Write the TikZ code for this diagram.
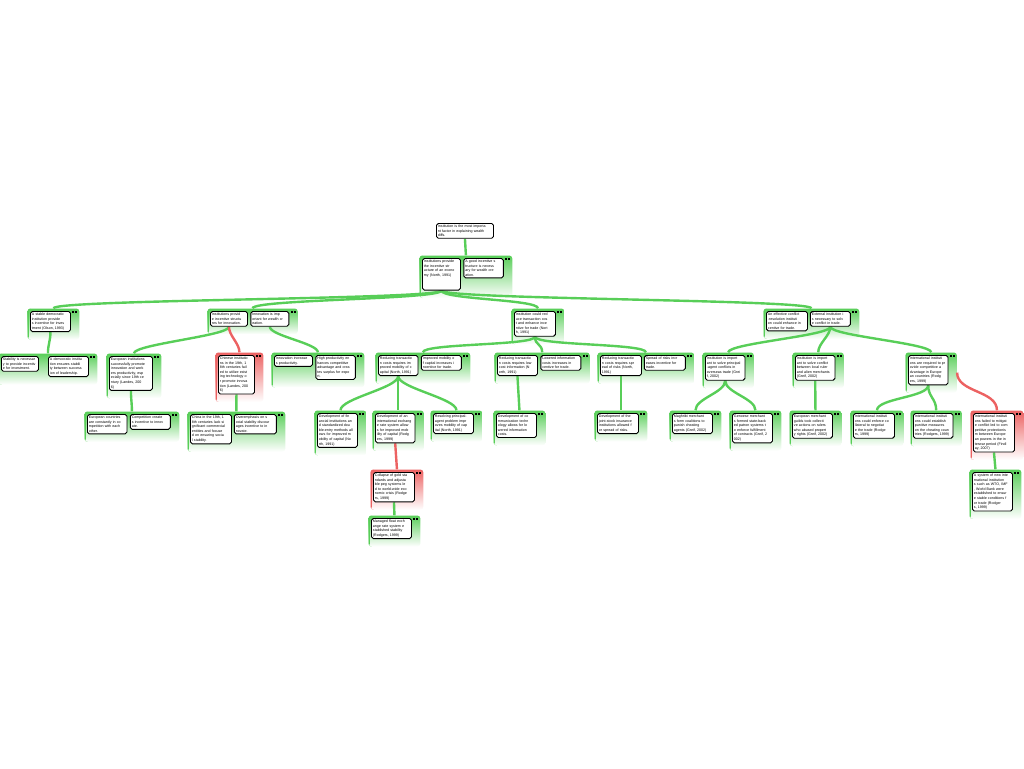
\documentclass[tikz,border=0pt]{standalone}
\usepackage{fontspec}
\setmainfont{Liberation Sans}
\usepackage{tikz}
\usetikzlibrary{positioning, fit, calc, backgrounds}

\definecolor{progreen}{RGB}{88,206,88}
\definecolor{conred}{RGB}{236,98,98}

\tikzset{
  claim/.style={draw, line width=0.9pt, fill=white, rounded corners=1.8pt, anchor=north west,
    inner sep=1.5pt, text width=36.5pt, align=left, font=\fontsize{3.6}{4.6}\selectfont},
  grp/.style={shade, top color=#1, bottom color=white, rounded corners=3pt, inner sep=2.5pt,
    path picture={\fill[#1] (path picture bounding box.north west) rectangle
      ([xshift=1.4pt]path picture bounding box.south west);}},
  link/.style={draw=progreen, line width=2.4pt},
  objlink/.style={draw=conred, line width=2.4pt},
  drop/.style={out=-90, in=90, distance=#1},
  drop/.default=9pt,
}

\begin{document}
\begin{tikzpicture}[x=1pt, y=-1pt]
\useasboundingbox (0,0) rectangle (1024,768);

% main claim
\node[claim, text width=54pt] (root) at (436,223) {Institution is the most importa\\nt factor in explaining wealth\\diffs.};

\node[claim, text width=35pt, text depth=26pt] (A) at (422,258) {Institutions provide\\the incentive str\\ucture of an econo\\my (North, 1991)};
\node[claim, right=2.5pt of A.north east, anchor=north west] (B) {A good incentive s\\tructure is necess\\ary for wealth cre\\ation.};

% second row
\node[claim, text width=37pt] (C) at (30,311) {A stable democratic\\institution provide\\s incentive for inves\\tment (Olson, 1993)};
\node[claim, text width=34pt] (D) at (210,311) {Institutions provid\\e incentive structu\\res for innovation.};
\node[claim, text width=35pt, right=2.5pt of D.north east, anchor=north west] (E) {Innovation is imp\\ortant for wealth cr\\eation.};
\node[claim, text width=38pt] (F) at (514,311) {Institution could red\\uce transaction cos\\t and enhance ince\\ntive for trade (Nort\\h, 1991)};
\node[claim, text width=38pt] (G) at (766,311) {An effective conflict\\-resolution instituti\\on could enhance in\\centive for trade.};
\node[claim, text width=37pt, right=2pt of G.north east, anchor=north west] (H) {External institution i\\s necessary to solv\\e conflict in trade.};

% third row
\node[claim, text width=34pt] (C1) at (1,356) {Stability is necessar\\y to provide incentiv\\e for investment.};
\node[claim, text width=37pt] (C2) at (48,356) {A democratic institu\\tion ensures stabili\\ty between success\\ion of leadership.};
\node[claim, text width=40pt] (D1) at (109,356) {European institutions\\successfully promote\\innovation and work\\ers productivity, esp\\ecially since 19th ce\\ntury (Landes, 200\\6)};
\node[claim, text width=33pt] (D2) at (218,355) {Chinese institutio\\ns in the 19th, 1\\8th centuries fail\\ed to utilize exist\\ing technology o\\r promote innova\\tion (Landes, 200\\6)};
\node[claim, text width=35pt] (E1) at (274,355) {Innovation increase\\s productivity.};
\node[claim, right=2.5pt of E1.north east, anchor=north west] (E2) {High productivity en\\hances competitive\\advantage and crea\\tes surplus for expo\\rt.};
\node[claim] (F1) at (378,355) {Reducing transactio\\n costs requires im\\proved mobility of c\\apital (North, 1991)};
\node[claim, text width=37pt, right=2.5pt of F1.north east, anchor=north west] (F2) {Improved mobility o\\f capital increases i\\ncentive for trade.};
\node[claim, text width=37pt] (F3) at (497,355) {Reducing transactio\\n costs requires low\\cost information (N\\orth, 1991)};
\node[claim, text width=37pt, right=2.5pt of F3.north east, anchor=north west] (F4) {Lowered information\\costs increases in\\centive for trade.};
\node[claim, text width=38pt] (F5) at (600,355) {Reducing transactio\\n costs requires spr\\ead of risks (North,\\1991)};
\node[claim, text width=38pt, right=2pt of F5.north east, anchor=north west] (F6) {Spread of risks incr\\eases incentive for\\trade.};
\node[claim] (H1) at (705,355) {Institution is import\\ant to solve principal\\-agent conflicts in\\overseas trade (Grei\\f, 2002)};
\node[claim] (H2) at (795,355) {Institution is import\\ant to solve conflict\\between local ruler\\and alien merchants\\(Greif, 2002)};
\node[claim] (H3) at (908,355) {International instituti\\ons are required to pr\\ovide competitive a\\dvantage in Europe\\an countries (Rodg\\ers, 1999)};

% fourth row
\node[claim] (D1a) at (87,414) {European countries\\are constantly in co\\mpetition with each\\other.};
\node[claim, text width=37pt, right=2.5pt of D1a.north east, anchor=north west] (D1b) {Competition create\\s incentive to innov\\ate.};
\node[claim, text width=38pt] (D2a) at (190,414) {China in the 19th, 1\\8th centuries lack si\\gnificant commercial\\entities and focuse\\d on ensuring socia\\l stability.};
\node[claim, text width=39pt, right=2pt of D2a.north east, anchor=north west] (D2b) {Overemphasis on s\\ocial stability discour\\ages incentive to in\\novate.};
\node[claim, text width=37pt] (F1a) at (317,413) {Development of fin\\ancial institutions an\\d standardized dou\\ble-entry methods all\\ows for improved m\\obility of capital (No\\rth, 1991)};
\node[claim] (F1b) at (375,413) {Development of an\\international exchang\\e rate system allow\\s for improved mob\\ility of capital (Rodg\\ers, 1999)};
\node[claim, text width=37pt] (F1c) at (433,413) {Resolving principal-\\agent problem impr\\oves mobility of cap\\ital (North, 1991)};
\node[claim, text width=37pt] (F3a) at (496,413) {Development of co\\mmunication techn\\ology allows for lo\\wered information costs.};
\node[claim, text width=38pt] (F5a) at (597,413) {Development of the\\joint-stock insurance\\institutions allowed f\\or spread of risks.};
\node[claim, text width=37pt] (H1a) at (672,413) {Maghribi merchant\\s form coalitions to\\punish cheating\\agents (Greif, 2002)};
\node[claim, text width=37pt] (H1b) at (732,413) {Genoese merchant\\s formed state-back\\ed patron systems t\\o enforce fulfillment\\of contracts (Greif, 2\\002)};
\node[claim, text width=37pt] (H2a) at (792,413) {European merchant\\guilds took collecti\\ve actions on rulers\\who abused propert\\y rights (Greif, 2002)};
\node[claim, text width=38pt] (H3a) at (853,413) {International instituti\\ons could enforce co\\llateral to negotiat\\e the trade (Rodge\\rs, 1999)};
\node[claim] (H3b) at (913,413) {International instituti\\ons could establish\\punitive measures\\on the cheating coun\\tries (Rodgers, 1999)};
\node[claim, text width=38pt] (H3c) at (973,413) {International instituti\\ons failed to mitigat\\e conflict led to com\\petitive protectionis\\m between Europe\\an powers in the in\\terwar period (Findl\\ay, 2007)};

% deeper rows
\node[claim, text width=38pt] (F1r) at (373,472) {Collapse of gold sta\\ndards and adjusta\\ble peg systems le\\d to world-wide eco\\nomic crisis (Rodge\\rs, 1999)};
\node[claim, text width=37pt] (F1g) at (371,518) {Managed float exch\\ange rate system e\\stablished stability\\(Rodgers, 1999)};
\node[claim, text width=37pt] (H3d) at (972,472) {A system of new inte\\rnational institution\\s such as WTO, IMF\\, World Bank were\\established to ensur\\e stable conditions f\\or trade (Rodger\\s, 1999)};

\begin{scope}[on background layer]
  % premise groups
  \node[grp=progreen, fit={(A)(B)($(B.east|-A.south)+(6,5)$)}] (gab) {};
  \node[grp=progreen, fit={(C)($(C.south east)+(6,5)$)}] (gc) {};
  \node[grp=progreen, fit={(D)(E)($(E.south east)+(6,5)$)}] (gde) {};
  \node[grp=progreen, fit={(F)($(F.south east)+(6,5)$)}] (gf) {};
  \node[grp=progreen, fit={(G)(H)($(H.east|-G.south)+(6,5)$)}] (ggh) {};
  \node[grp=progreen, fit={(C1)(C2)($(C2.south east)+(6,5)$)}] (gc12) {};
  \node[grp=progreen, fit={(D1)($(D1.south east)+(6,5)$)}] (gd1) {};
  \node[grp=conred, fit={(D2)($(D2.south east)+(6,5)$)}] (gd2) {};
  \node[grp=progreen, fit={(E1)(E2)($(E2.south east)+(6,5)$)}] (ge12) {};
  \node[grp=progreen, fit={(F1)(F2)($(F2.east|-F1.south)+(6,5)$)}] (gf12) {};
  \node[grp=progreen, fit={(F3)(F4)($(F4.east|-F3.south)+(6,5)$)}] (gf34) {};
  \node[grp=progreen, fit={(F5)(F6)($(F6.east|-F5.south)+(6,5)$)}] (gf56) {};
  \node[grp=progreen, fit={(H1)($(H1.south east)+(6,5)$)}] (gh1) {};
  \node[grp=progreen, fit={(H2)($(H2.south east)+(6,5)$)}] (gh2) {};
  \node[grp=progreen, fit={(H3)($(H3.south east)+(6,5)$)}] (gh3) {};
  \node[grp=progreen, fit={(D1a)(D1b)($(D1b.east|-D1a.south)+(6,5)$)}] (gd1ab) {};
  \node[grp=progreen, fit={(D2a)(D2b)($(D2b.east|-D2a.south)+(6,5)$)}] (gd2ab) {};
  \node[grp=progreen, fit={(F1a)($(F1a.south east)+(6,5)$)}] (gf1a) {};
  \node[grp=progreen, fit={(F1b)($(F1b.south east)+(6,5)$)}] (gf1b) {};
  \node[grp=progreen, fit={(F1c)($(F1c.south east)+(6,5)$)}] (gf1c) {};
  \node[grp=conred, fit={(F1r)($(F1r.south east)+(6,5)$)}] (gf1r) {};
  \node[grp=progreen, fit={(F1g)($(F1g.south east)+(6,5)$)}] (gf1g) {};
  \node[grp=progreen, fit={(F3a)($(F3a.south east)+(6,5)$)}] (gf3a) {};
  \node[grp=progreen, fit={(F5a)($(F5a.south east)+(6,5)$)}] (gf5a) {};
  \node[grp=progreen, fit={(H1a)($(H1a.south east)+(6,5)$)}] (gh1a) {};
  \node[grp=progreen, fit={(H1b)($(H1b.south east)+(6,5)$)}] (gh1b) {};
  \node[grp=progreen, fit={(H2a)($(H2a.south east)+(6,5)$)}] (gh2a) {};
  \node[grp=progreen, fit={(H3a)($(H3a.south east)+(6,5)$)}] (gh3a) {};
  \node[grp=progreen, fit={(H3b)($(H3b.south east)+(6,5)$)}] (gh3b) {};
  \node[grp=conred, fit={(H3c)($(H3c.south east)+(6,5)$)}] (gh3c) {};
  \node[grp=progreen, fit={(H3d)($(H3d.south east)+(6,5)$)}] (gh3d) {};

  % small marks in the group corners
  \foreach \g in {gab,gc,gde,gf,ggh,gc12,gd1,gd2,ge12,gf12,gf34,gf56,gh1,gh2,gh3,gd1ab,gd2ab,
                  gf1a,gf1b,gf1c,gf1r,gf1g,gf3a,gf5a,gh1a,gh1b,gh2a,gh3a,gh3b,gh3c,gh3d}{
    \fill (\g.north east) ++(-7.5,3) rectangle ++(2,2);
    \fill (\g.north east) ++(-4.5,3) rectangle ++(2,2);
  }

  % links
  \draw[link] (root.south) -- (gab.north);
  \foreach \t in {gc,gde,gf,ggh}
    \draw[link] (A.south) to[drop] (\t.north);
  \draw[link] (C.south) to[drop] (gc12.north);
  \draw[link] (D.south) to[drop] (gd1.north);
  \draw[objlink] (D.south) to[drop] (gd2.north);
  \draw[link] (E.south) to[drop] (ge12.north);
  \draw[link] (D1.south) to[drop] (gd1ab.north);
  \draw[link] (D2.south) to[drop] (gd2ab.north);
  \foreach \t in {gf12,gf34,gf56}
    \draw[link] (F.south) to[drop] (\t.north);
  \foreach \t in {gf1a,gf1b,gf1c}
    \draw[link] (F1.south) to[drop=12pt] (\t.north);
  \draw[objlink] (F1b.south) -- (gf1r.north);
  \draw[link] (F1r.south) -- (gf1g.north);
  \draw[link] (F3.south) -- (gf3a.north);
  \draw[link] (F5.south) -- (gf5a.north);
  \foreach \t in {gh1,gh2,gh3}
    \draw[link] (H.south) to[drop] (\t.north);
  \foreach \t in {gh1a,gh1b}
    \draw[link] (H1.south) to[drop=12pt] (\t.north);
  \draw[link] (H2.south) -- (gh2a.north);
  \foreach \t in {gh3a,gh3b}
    \draw[link] (H3.south) to[drop=12pt] (\t.north);
  \draw[objlink] (gh3.east) to[drop=20pt] (gh3c.north);
  \draw[link] (H3c.south) -- (gh3d.north);
\end{scope}
\end{tikzpicture}
\end{document}
